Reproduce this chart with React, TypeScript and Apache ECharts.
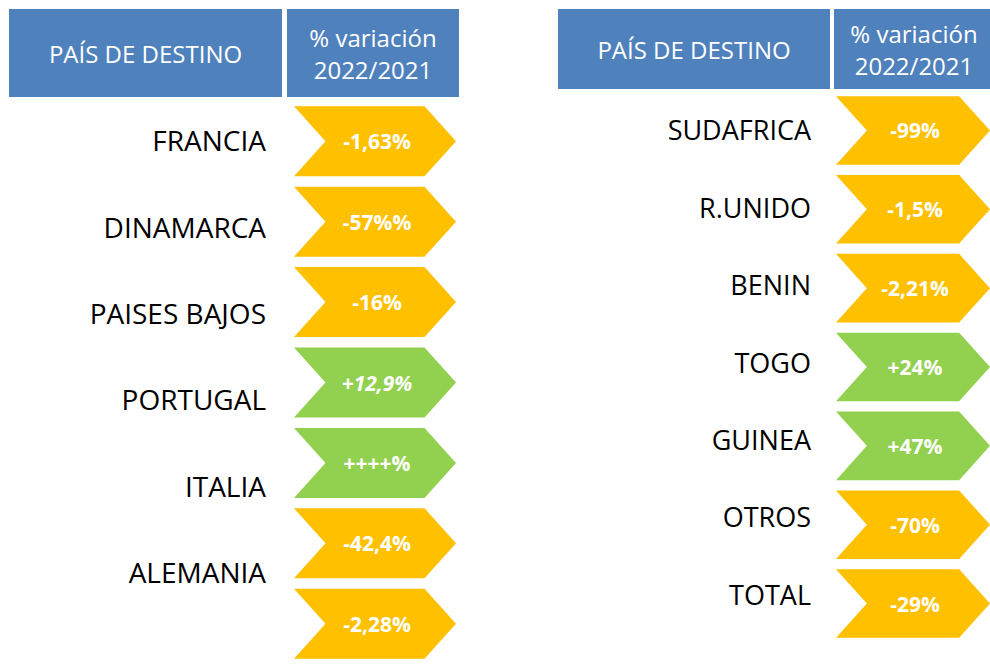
import React, { useEffect, useRef } from "react";
import * as echarts from "echarts";

const leftCountries = ["FRANCIA", "DINAMARCA", "PAISES BAJOS", "PORTUGAL", "ITALIA", "ALEMANIA"];
const leftValues = ["-1,63%", "-57%%", "-16%", "+12,9%", "++++%", "-42,4%", "-2,28%"];
const rightCountries = ["SUDAFRICA", "R.UNIDO", "BENIN", "TOGO", "GUINEA", "OTROS", "TOTAL"];
const rightValues = ["-99%", "-1,5%", "-2,21%", "+24%", "+47%", "-70%", "-29%"];
const headerCountry = "PAÍS DE DESTINO";
const headerVariation = "% variación\n2022/2021";

const ORANGE = "#FFC000";
const GREEN = "#92D050";
const BLUE = "#4F81BD";
const FONT = "'Open Sans', 'Noto Sans', sans-serif";

function chevronRender(values: string[]) {
  return (params: any, api: any) => {
    const i = api.value(1);
    const p0 = api.coord([0, i]);
    const p1 = api.coord([api.value(0), i]);
    const h = api.size([0, 1])[1] * 0.87;
    const x0 = p0[0];
    const x1 = p1[0];
    const cy = p0[1];
    const d = h * 0.45;
    const label = values[params.dataIndex];
    const color = label.startsWith("+") ? GREEN : ORANGE;
    const italic = label.indexOf(",") >= 0 && label.startsWith("+");
    return {
      type: "group",
      children: [
        {
          type: "polygon",
          shape: {
            points: [
              [x0, cy - h / 2],
              [x1 - d, cy - h / 2],
              [x1, cy],
              [x1 - d, cy + h / 2],
              [x0, cy + h / 2],
              [x0 + d, cy],
            ],
          },
          style: { fill: color },
        },
        {
          type: "text",
          style: {
            text: label,
            x: (x0 + d + x1 - d) / 2 + 2,
            y: cy,
            align: "center",
            verticalAlign: "middle",
            textAlign: "center",
            textVerticalAlign: "middle",
            fill: "#ffffff",
            fontSize: 21,
            fontWeight: "bold",
            fontStyle: italic ? "italic" : "normal",
            fontFamily: FONT,
          },
        },
      ],
    };
  };
}

export default function App() {
  const ref = useRef<HTMLDivElement>(null);
  useEffect(() => {
    if (!ref.current) return;
    const chart = echarts.init(ref.current, null, { renderer: "svg" });

    const hiddenX = (gridIndex: number) => ({
      type: "value" as const,
      gridIndex,
      min: 0,
      max: 1,
      show: false,
    });
    const hiddenCatY = (gridIndex: number, n: number) => ({
      type: "category" as const,
      gridIndex,
      inverse: true,
      data: Array.from({ length: n }, (_, k) => String(k)),
      show: false,
    });
    const labelY = (gridIndex: number, data: string[], fontSize: number) => ({
      type: "category" as const,
      gridIndex,
      inverse: true,
      data,
      axisLine: { show: false },
      axisTick: { show: false },
      splitLine: { show: false },
      axisLabel: {
        color: "#000000",
        fontSize,
        fontFamily: FONT,
        margin: 0,
        align: "right",
      },
    });

    const headerGroup = (x1: number, w1: number, x2: number, w2: number, top: number, h: number) => [
      {
        type: "rect",
        shape: { x: x1, y: top, width: w1, height: h },
        style: { fill: BLUE },
      },
      {
        type: "rect",
        shape: { x: x2, y: top, width: w2, height: h },
        style: { fill: BLUE },
      },
      {
        type: "text",
        x: x1 + w1 / 2,
        y: top + h / 2,
        style: {
          text: headerCountry,
          fill: "#ffffff",
          fontSize: 24,
          fontFamily: FONT,
          align: "center",
          verticalAlign: "middle",
        },
      },
      {
        type: "text",
        x: x2 + w2 / 2,
        y: top + h / 2,
        style: {
          text: headerVariation,
          fill: "#ffffff",
          fontSize: 24,
          lineHeight: 32,
          fontFamily: FONT,
          align: "center",
          verticalAlign: "middle",
        },
      },
    ];

    chart.setOption({
      animation: false,
      backgroundColor: "#ffffff",
      grid: [
        { left: 294, width: 162, top: 101, height: 566 },
        { left: 266, width: 10, top: 97, height: 518 },
        { left: 836, width: 156, top: 91, height: 552 },
        { left: 811, width: 10, top: 91, height: 542 },
      ],
      xAxis: [hiddenX(0), hiddenX(1), hiddenX(2), hiddenX(3)],
      yAxis: [
        hiddenCatY(0, leftValues.length),
        labelY(1, leftCountries, 28),
        hiddenCatY(2, rightValues.length),
        labelY(3, rightCountries, 27),
      ],
      series: [
        {
          type: "custom",
          xAxisIndex: 0,
          yAxisIndex: 0,
          renderItem: chevronRender(leftValues),
          data: leftValues.map((_, i) => [1, i]),
          silent: true,
        },
        {
          type: "custom",
          xAxisIndex: 2,
          yAxisIndex: 2,
          renderItem: chevronRender(rightValues),
          data: rightValues.map((_, i) => [1, i]),
          silent: true,
        },
      ],
      graphic: [
        ...headerGroup(9, 273, 287, 172, 9, 88),
        ...headerGroup(558, 272, 834, 160, 9, 80),
      ],
    });
    return () => chart.dispose();
  }, []);
  return (
    <div
      ref={ref}
      style={{ position: "absolute", left: 0, top: 0, width: 990, height: 664 }}
    />
  );
}
